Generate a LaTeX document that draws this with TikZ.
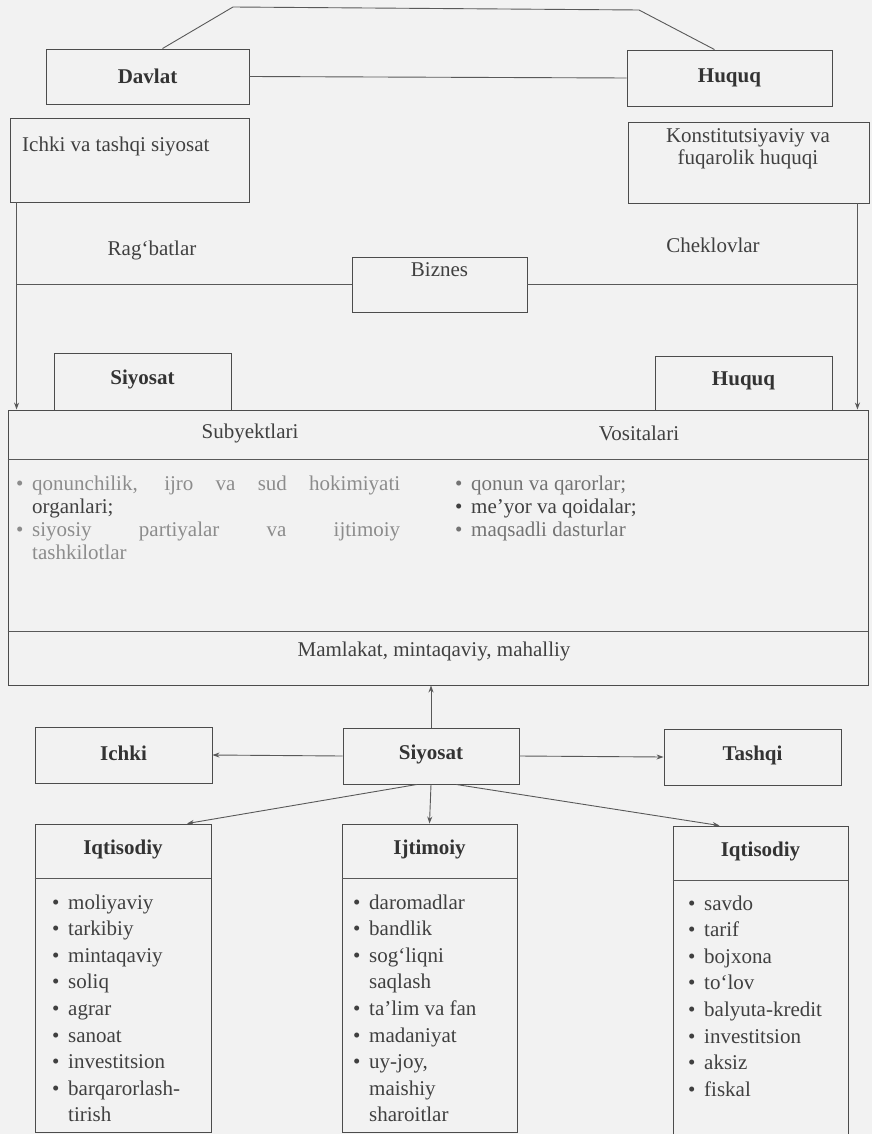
\documentclass[tikz,border=0pt]{standalone}
\usepackage{fontspec}
\setmainfont{Liberation Serif}
\usetikzlibrary{arrows.meta,calc}
\newcommand\bulitem[1]{\makebox[16pt][l]{\textbullet}#1}
\newcommand\contitem[1]{\hspace*{16pt}#1}
\begin{document}
\begin{tikzpicture}[x=1pt,y=-1pt,
  box/.style={draw=black!70, line width=0.9pt, inner sep=0pt},
  conn/.style={draw=black!65, line width=0.9pt},
  arr/.style={conn, -{Stealth[length=7pt,width=5pt]}},
  txt/.style={font=\fontsize{21}{24}\selectfont, text=black!75, inner sep=0pt},
  ttl/.style={font=\fontsize{21}{24}\selectfont\bfseries, text=black!80, inner sep=0pt},
  itm/.style={txt, anchor=base west}]
% page
\useasboundingbox (0,0) rectangle (872,1134);
\fill[black!5] (0,0) rectangle (872,1134);

% ---- upper block: state and law
\node[box, minimum width=203pt, minimum height=55pt] (davlat) at (147.5,76.5) {};
\node[ttl] (davlatt) at (147.5,76.5) {Davlat};
\node[box, minimum width=205pt, minimum height=56pt] (huquq) at (729.5,78) {};
\node[ttl] (huquqt) at (729.5,78) {Huquq};
\node[box, minimum width=239pt, minimum height=84pt] (its) at (129.5,160) {};
\node[txt, anchor=base west] (itst) at (22,152) {Ichki va tashqi siyosat};
\node[box, minimum width=241pt, minimum height=81pt] (konst) at (748.5,162.5) {};
\node[txt, align=center, font=\fontsize{21}{22}\selectfont] (konstt) at (748,149) {Konstitutsiyaviy va\\fuqarolik huquqi};

\coordinate (tl) at (233,7);
\coordinate (tr) at (639,10);
\draw[conn] ([xshift=15pt]davlat.north) -- (tl) -- (tr) -- ([xshift=-15pt]huquq.north);
\draw[conn] (davlat.east) -- (huquq.west);

% ---- business block
\node[box, minimum width=860pt, minimum height=275pt] (main) at (438,547.5) {};
\node[box, minimum width=175pt, minimum height=55pt] (biznes) at (439.5,284.5) {};
\node[txt] (biznest) at (439.5,270) {Biznes};
\node[txt] (rag) at (152,250) {Rag‘batlar};
\node[txt] (chek) at (713,245) {Cheklovlar};

\coordinate (la) at ($(its.south west)+(7,0)$);
\coordinate (ra) at ($(konst.south east)+(-12,0)$);
\draw[arr] (la) -- (la |- main.north);
\draw[arr] (ra) -- (ra |- main.north);
\draw[conn] (biznes.west) -- (biznes.west -| la);
\draw[conn] (biznes.east) -- (biznes.east -| ra);

\node[box, minimum width=177pt, minimum height=57pt] (siy1) at (142.5,381.5) {};
\node[ttl] (siy1t) at (142.5,379) {Siyosat};
\node[box, minimum width=177pt, minimum height=54pt] (huq2) at (743.5,383) {};
\node[ttl] (huq2t) at (743.5,381) {Huquq};

% header row, list row, level row
\node[txt] (subj) at (250,433) {Subyektlari};
\node[txt] (vos) at (639,433) {Vositalari};
\draw[conn] ($(main.north west)+(0,50)$) -- ($(main.north east)+(0,50)$);
\draw[conn] ($(main.south west)+(0,-54)$) -- ($(main.south east)+(0,-54)$);
\node[txt] (lvl) at (434,651) {Mamlakat, mintaqaviy, mahalliy};

\node[itm, text=black!45] (s1) at (16,490) {\makebox[16pt][l]{\textbullet}\makebox[368pt][s]{qonunchilik, ijro va sud hokimiyati}};
\node[itm] (s2) at (16,513) {\contitem{organlari;}};
\node[itm, text=black!45] (s3) at (16,536) {\makebox[16pt][l]{\textbullet}\makebox[368pt][s]{siyosiy partiyalar va ijtimoiy}};
\node[itm, text=black!45] (s4) at (16,559) {\contitem{tashkilotlar}};
\node[itm, text=black!55] (v1) at (455,490) {\bulitem{qonun va qarorlar;}};
\node[itm] (v2) at (455,513) {\bulitem{me’yor va qoidalar;}};
\node[itm, text=black!55] (v3) at (455,536) {\bulitem{maqsadli dasturlar}};

% ---- policy block
\node[box, minimum width=177pt, minimum height=56pt] (ichki) at (123.5,755) {};
\node[ttl] (ichkit) at (123.5,753) {Ichki};
\node[box, minimum width=176pt, minimum height=56pt] (siy2) at (431,756) {};
\node[ttl] (siy2t) at (431,754) {Siyosat};
\node[box, minimum width=177pt, minimum height=56pt] (tashqi) at (752.5,757) {};
\node[ttl] (tashqit) at (752.5,755) {Tashqi};

\draw[arr] (siy2.north) -- (siy2.north |- main.south);
\draw[arr] (siy2.west) -- (ichki.east);
\draw[arr] (siy2.east) -- (tashqi.west);

\node[box, minimum width=176pt, minimum height=308pt] (iqt1) at (123,978) {};
\node[box, minimum width=175pt, minimum height=308pt] (ijt) at (429.5,978) {};
\node[box, minimum width=175pt, minimum height=308pt] (iqt2) at (760.5,980) {};

\draw[arr] ([xshift=-14pt]siy2.south) -- ([xshift=64pt]iqt1.north);
\draw[arr] (siy2.south) -- (ijt.north);
\draw[arr] ([xshift=25pt]siy2.south) -- ([xshift=-41pt]iqt2.north);

\foreach \b in {iqt1,ijt,iqt2}
  \draw[conn] ($(\b.north west)+(0,55)$) -- ($(\b.north east)+(0,55)$);

\node[ttl] (iqt1t) at (123,849) {Iqtisodiy};
\node[ttl] (ijtt) at (429.5,849) {Ijtimoiy};
\node[ttl] (iqt2t) at (760.5,851) {Iqtisodiy};

\foreach \t [count=\i] in {{\bulitem{moliyaviy}},{\bulitem{tarkibiy}},{\bulitem{mintaqaviy}},{\bulitem{soliq}},{\bulitem{agrar}},{\bulitem{sanoat}},{\bulitem{investitsion}},{\bulitem{barqarorlash-}},{\contitem{tirish}}}
  \node[itm] (a\i) at (52,{909+26.6*(\i-1)}) {\t};
\foreach \t [count=\i] in {{\bulitem{daromadlar}},{\bulitem{bandlik}},{\bulitem{sog‘liqni}},{\contitem{saqlash}},{\bulitem{ta’lim va fan}},{\bulitem{madaniyat}},{\bulitem{uy-joy,}},{\contitem{maishiy}},{\contitem{sharoitlar}}}
  \node[itm] (b\i) at (353,{909+26.6*(\i-1)}) {\t};
\foreach \t [count=\i] in {{\bulitem{savdo}},{\bulitem{tarif}},{\bulitem{bojxona}},{\bulitem{to‘lov}},{\bulitem{balyuta-kredit}},{\bulitem{investitsion}},{\bulitem{aksiz}},{\bulitem{fiskal}}}
  \node[itm] (c\i) at (688,{910+26.6*(\i-1)}) {\t};
\end{tikzpicture}
\end{document}
